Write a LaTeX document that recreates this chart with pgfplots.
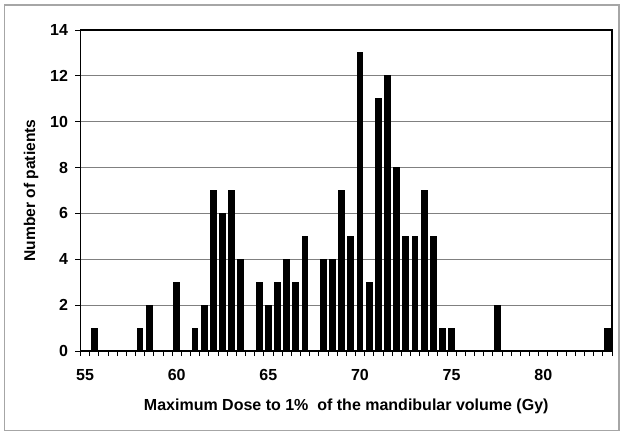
\documentclass[border=0pt]{standalone}
\usepackage{pgfplots}
\pgfplotsset{compat=1.18}
\usepackage{fontspec}
\setmainfont{Liberation Sans}
\pgfplotstableread{
x y
55.5 1
58.0 1
58.5 2
60.0 3
61.0 1
61.5 2
62.0 7
62.5 6
63.0 7
63.5 4
64.5 3
65.0 2
65.5 3
66.0 4
66.5 3
67.0 5
68.0 4
68.5 4
69.0 7
69.5 5
70.0 13
70.5 3
71.0 11
71.5 12
72.0 8
72.5 5
73.0 5
73.5 7
74.0 5
74.5 1
75.0 1
77.5 2
83.5 1
}\dosedata
\begin{document}
\begin{tikzpicture}
\useasboundingbox (-80.5bp,-84bp) rectangle (543.5bp,351bp);
\draw[gray!70, line width=1.2bp] (-76bp,-79.5bp) rectangle (538.5bp,346bp);
\begin{axis}[
  scale only axis,
  width=531.5bp, height=321bp,
  xmin=54.75, xmax=83.75,
  ymin=0, ymax=14,
  ytick={0,2,...,14},
  xtick={54.75,55.25,...,83.75},
  xticklabels={},
  extra x ticks={55,60,65,70,75,80},
  extra x tick labels={55,60,65,70,75,80},
  extra x tick style={tick style={draw=none}},
  tick pos=left,
  tick align=outside,
  major tick length=5bp,
  tick style={black, line width=0.8bp},
  axis line style={black, line width=1.6bp},
  ymajorgrids,
  major grid style={gray, line width=0.9bp},
  font=\fontsize{16bp}{19bp}\selectfont\bfseries,
  /pgf/number format/assume math mode=true,
  ticklabel style={font=\fontsize{16bp}{19bp}\selectfont\bfseries},
  xticklabel style={yshift=-10bp},
  yticklabel style={xshift=-4bp},
  xlabel={Maximum Dose to 1\%\ \ of the mandibular volume (Gy)},
  ylabel={Number of patients},
  xlabel style={at={(axis description cs:0.5,-0.1713)}, anchor=center, font=\fontsize{16bp}{19bp}\selectfont\bfseries},
  ylabel style={at={(axis description cs:-0.0931,0.5)}, anchor=center, font=\fontsize{15.6bp}{19bp}\selectfont\bfseries},
  ybar, bar width=0.315,
]
\addplot[fill=black, draw=black, line width=0pt] table[x=x,y=y] {\dosedata};
\end{axis}
\end{tikzpicture}
\end{document}
